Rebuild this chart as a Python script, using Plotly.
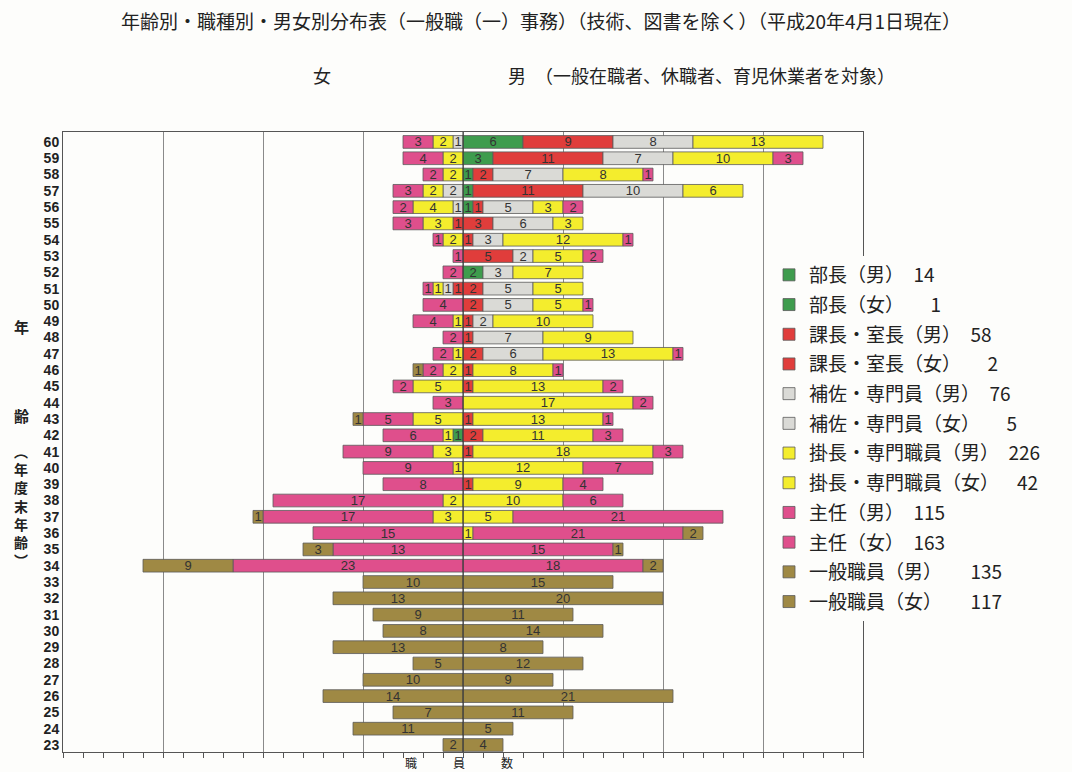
import plotly.graph_objects as go

# 年齢（年度末年齢）60歳から23歳まで
ages = list(range(60, 22, -1))

# 男性：職種別人数（60歳→23歳の順）
m_bucho = [6, 3, 1, 1, 1, 0, 0, 0, 2, 0, 0, 0, 0, 0, 0, 0, 0, 0, 0, 0,
           0, 0, 0, 0, 0, 0, 0, 0, 0, 0, 0, 0, 0, 0, 0, 0, 0, 0]
m_kacho = [9, 11, 2, 11, 1, 3, 1, 5, 0, 2, 2, 1, 1, 2, 1, 1, 0, 1, 2, 1,
           0, 1, 0, 0, 0, 0, 0, 0, 0, 0, 0, 0, 0, 0, 0, 0, 0, 0]
m_hosa = [8, 7, 7, 10, 5, 6, 3, 2, 3, 5, 5, 2, 7, 6, 0, 0, 0, 0, 0, 0,
          0, 0, 0, 0, 0, 0, 0, 0, 0, 0, 0, 0, 0, 0, 0, 0, 0, 0]
m_kakari = [13, 10, 8, 6, 3, 3, 12, 5, 7, 5, 5, 10, 9, 13, 8, 13, 17, 13, 11, 18,
            12, 9, 10, 5, 1, 0, 0, 0, 0, 0, 0, 0, 0, 0, 0, 0, 0, 0]
m_shunin = [0, 3, 1, 0, 2, 0, 1, 2, 0, 0, 1, 0, 0, 1, 1, 2, 2, 1, 3, 3,
            7, 4, 6, 21, 21, 15, 18, 0, 0, 0, 0, 0, 0, 0, 0, 0, 0, 0]
m_ippan = [0, 0, 0, 0, 0, 0, 0, 0, 0, 0, 0, 0, 0, 0, 0, 0, 0, 0, 0, 0,
           0, 0, 0, 0, 2, 1, 2, 15, 20, 11, 14, 8, 12, 9, 21, 11, 5, 4]

# 女性：職種別人数（60歳→23歳の順）
f_bucho = [0, 0, 0, 0, 0, 0, 0, 0, 0, 0, 0, 0, 0, 0, 0, 0, 0, 0, 1, 0,
           0, 0, 0, 0, 0, 0, 0, 0, 0, 0, 0, 0, 0, 0, 0, 0, 0, 0]
f_kacho = [0, 0, 0, 0, 0, 1, 0, 0, 0, 1, 0, 0, 0, 0, 0, 0, 0, 0, 0, 0,
           0, 0, 0, 0, 0, 0, 0, 0, 0, 0, 0, 0, 0, 0, 0, 0, 0, 0]
f_hosa = [1, 0, 0, 2, 1, 0, 0, 0, 0, 1, 0, 0, 0, 0, 0, 0, 0, 0, 0, 0,
          0, 0, 0, 0, 0, 0, 0, 0, 0, 0, 0, 0, 0, 0, 0, 0, 0, 0]
f_kakari = [2, 2, 2, 2, 4, 3, 2, 0, 0, 1, 0, 1, 0, 1, 2, 5, 0, 5, 1, 3,
            1, 0, 2, 3, 0, 0, 0, 0, 0, 0, 0, 0, 0, 0, 0, 0, 0, 0]
f_shunin = [3, 4, 2, 3, 2, 3, 1, 1, 2, 1, 4, 4, 2, 2, 2, 2, 3, 5, 6, 9,
            9, 8, 17, 17, 15, 13, 23, 0, 0, 0, 0, 0, 0, 0, 0, 0, 0, 0]
f_ippan = [0, 0, 0, 0, 0, 0, 0, 0, 0, 0, 0, 0, 0, 0, 1, 0, 0, 1, 0, 0,
           0, 0, 0, 1, 0, 3, 9, 10, 13, 9, 8, 13, 5, 10, 14, 7, 11, 2]

# 職種名・色（中心から外側への積み上げ順）
posts = ["部長", "課長・室長", "補佐・専門員", "掛長・専門職員", "主任", "一般職員"]
colors = ["#3e9c4d", "#e03d3b", "#dadad6", "#f4ed2d", "#df4f8c", "#9f8944"]
male_series = [m_bucho, m_kacho, m_hosa, m_kakari, m_shunin, m_ippan]
female_series = [f_bucho, f_kacho, f_hosa, f_kakari, f_shunin, f_ippan]
legend_gap = ["　", "　", "　", "　", "　", "　　"]

W, H = 1072, 772
L, R, T, B = 63, 863, 132, 752


def px(x):
    return (x - L) / (R - L)


def py(y):
    return (B - y) / (B - T)


bg = "#fdfdfb"
num_font = dict(family="Liberation Sans, Arial", size=13, color="#333333")

fig = go.Figure()
for post, col, mv, fv, gap in zip(posts, colors, male_series, female_series, legend_gap):
    for sex, vals, sign in (("男", mv, 1), ("女", fv, -1)):
        total = sum(vals)
        pad = "\u00a0" * (2 * (3 - len(str(total)))) if sex == "女" else ""
        fig.add_trace(go.Bar(
            y=ages,
            x=[sign * v if v else None for v in vals],
            text=[str(v) if v else "" for v in vals],
            orientation="h",
            width=0.78,
            name=f"{post}（{sex}）{gap}{pad}{total}",
            legendgroup=f"{post}{sex}",
            marker=dict(color=col, line=dict(color="#5a5a5a", width=0.8)),
            textposition="inside",
            insidetextanchor="middle",
            constraintext="none",
            textangle=0,
            textfont=num_font,
            hoverinfo="skip",
        ))

fig.update_layout(
    width=W, height=H,
    margin=dict(l=L, r=W - R, t=T, b=H - B, autoexpand=False),
    paper_bgcolor=bg, plot_bgcolor=bg,
    barmode="relative",
    font=dict(family="Noto Sans CJK JP", color="#222222"),
    title=dict(
        text="年齢別・職種別・男女別分布表（一般職（一）事務）（技術、図書を除く）（平成20年4月1日現在）",
        x=541 / W, y=1 - 22 / H, xanchor="center", yanchor="middle",
        font=dict(family="Noto Sans CJK JP", size=19, color="#222222"),
    ),
    legend=dict(
        x=px(769), y=py(256), xanchor="left", yanchor="top",
        bgcolor=bg, borderwidth=0,
        font=dict(family="Noto Sans CJK JP", size=19, color="#222222"),
        traceorder="grouped", tracegroupgap=2,
    ),
    showlegend=True,
)

fig.update_xaxes(
    range=[-40, 40], tick0=0, dtick=10,
    showgrid=True, gridcolor="#8a8a8a", gridwidth=1,
    zeroline=False, showline=True, linecolor="#555555", linewidth=1, mirror=True,
    ticks="outside", ticklen=5, tickcolor="#555555", showticklabels=False,
    minor=dict(dtick=2, ticks="outside", ticklen=5, tickcolor="#555555", showgrid=False),
)
fig.update_yaxes(
    range=[22.57, 60.61], tickvals=ages, ticktext=[str(a) for a in ages],
    showgrid=False, zeroline=False, showline=True, linecolor="#555555",
    linewidth=1, mirror=True, ticks="",
    tickfont=dict(family="Liberation Sans, Arial", size=14, color="#222222", weight=700),
)

# 中央の男女境界線
fig.add_shape(type="line", xref="x", yref="paper", x0=0, x1=0, y0=0, y1=1,
              line=dict(color="#333333", width=1), layer="above")

ann_font = dict(family="Noto Sans CJK JP", size=18, color="#222222")
side_font = dict(family="Noto Sans CJK JP", size=15, color="#222222", weight=700)
fig.add_annotation(text="女", xref="paper", yref="paper", x=px(322), y=py(75),
                   showarrow=False, font=ann_font, xanchor="center", yanchor="middle")
fig.add_annotation(text="男　（一般在職者、休職者、育児休業者を対象）", xref="paper", yref="paper",
                   x=px(506), y=py(75), showarrow=False, font=ann_font,
                   xanchor="left", yanchor="middle")
fig.add_annotation(text="年", xref="paper", yref="paper", x=px(21), y=py(326),
                   showarrow=False, font=side_font, xanchor="center", yanchor="middle")
fig.add_annotation(text="齢", xref="paper", yref="paper", x=px(21), y=py(415),
                   showarrow=False, font=side_font, xanchor="center", yanchor="middle")
fig.add_annotation(text="︵<br>年<br>度<br>末<br>年<br>齢<br>︶", xref="paper", yref="paper",
                   x=px(21), y=py(505), showarrow=False,
                   font=dict(family="Noto Sans CJK JP", size=14, color="#222222", weight=700),
                   xanchor="center", yanchor="middle")
fig.add_annotation(text="職　　　員　　　数", xref="paper", yref="paper", x=px(459), y=py(762),
                   showarrow=False, font=dict(family="Noto Sans CJK JP", size=12, color="#222222"),
                   xanchor="center", yanchor="middle")

fig.write_html("out.html")
